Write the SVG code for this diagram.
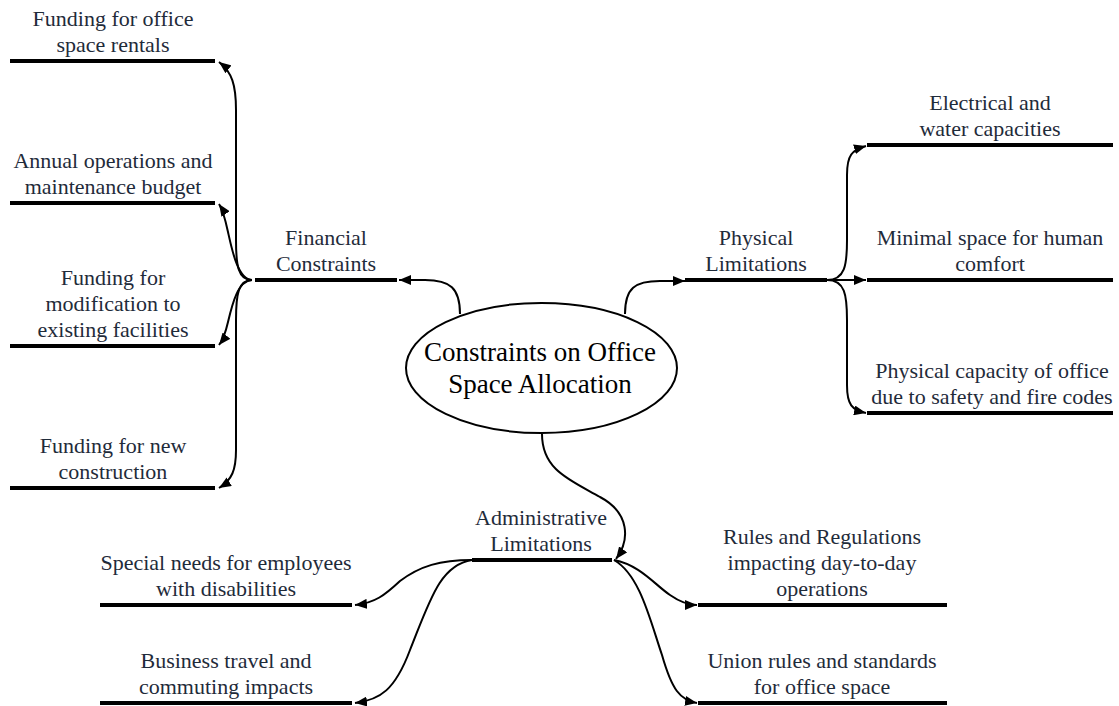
<svg xmlns="http://www.w3.org/2000/svg" width="1119" height="706" viewBox="0 0 1119 706">
  <defs>
    <marker id="arrow" markerUnits="userSpaceOnUse" markerWidth="12" markerHeight="10" refX="12" refY="5" orient="auto">
      <path d="M0,0 L12,5 L0,10 z" fill="#000"/>
    </marker>
    <style>
      .bar { stroke: #000; stroke-width: 4; fill: none; }
      .link { stroke: #000; stroke-width: 2; fill: none; marker-end: url(#arrow); }
      .lbl { font-family: "Liberation Serif", "Times New Roman", serif; font-size: 22px; fill: #1f2b3a; text-anchor: middle; }
      .root { font-family: "Liberation Serif", "Times New Roman", serif; font-size: 27px; fill: #000; text-anchor: middle; }
    </style>
  </defs>
  <rect width="1119" height="706" fill="#fff"/>

  <!-- connectors -->
  <g id="connectors">
    <!-- root to branches -->
    <path class="link" d="M460,314 C460,288 450,280 425,280 L399,280"/>
    <path class="link" d="M625,314 C625,288 635,281 660,281 L685,281"/>
    <path class="link" d="M542,434 C542,470 570,480 600,497 C630,513 630,540 616,559"/>
    <!-- financial -->
    <path class="link" d="M252,280 C238,280 236,265 236,240 L236,110 C236,85 232,72 219,62"/>
    <path class="link" d="M252,280 C238,280 232,250 228,232 C225,218 223,210 219,204"/>
    <path class="link" d="M252,280 C238,280 232,305 228,322 C225,335 223,340 219,345"/>
    <path class="link" d="M252,280 C238,280 236,295 236,320 L236,450 C236,470 232,480 219,488"/>
    <!-- physical -->
    <path class="link" d="M827,280 C845,280 847,265 847,240 L847,175 C847,155 852,150 866,146"/>
    <path class="link" d="M827,280 L866,280"/>
    <path class="link" d="M827,280 C845,280 847,295 847,320 L847,385 C847,405 852,410 866,413"/>
    <!-- administrative -->
    <path class="link" d="M472,560 C440,560 420,566 400,581 C385,595 375,603 355,605"/>
    <path class="link" d="M472,560 C440,565 430,600 410,650 C395,690 380,700 355,703"/>
    <path class="link" d="M614,560 C640,565 655,585 670,595 C680,602 688,605 697,605"/>
    <path class="link" d="M614,560 C640,575 650,620 662,655 C672,690 680,700 697,703"/>
  </g>

  <!-- central topic -->
  <g id="root">
    <ellipse cx="541.5" cy="368" rx="135.5" ry="65" fill="#fff" stroke="#000" stroke-width="2"/>
    <text class="root" x="540" y="361">Constraints on Office</text>
    <text class="root" x="540" y="393">Space Allocation</text>
  </g>

  <!-- main branches -->
  <g id="financial">
    <line class="bar" x1="255" y1="280" x2="397" y2="280"/>
    <text class="lbl" x="326" y="245">Financial</text>
    <text class="lbl" x="326" y="271">Constraints</text>
  </g>
  <g id="physical">
    <line class="bar" x1="685" y1="280" x2="827" y2="280"/>
    <text class="lbl" x="756" y="245">Physical</text>
    <text class="lbl" x="756" y="271">Limitations</text>
  </g>
  <g id="administrative">
    <line class="bar" x1="472" y1="560" x2="612" y2="560"/>
    <text class="lbl" x="541" y="525">Administrative</text>
    <text class="lbl" x="541" y="551">Limitations</text>
  </g>

  <!-- financial leaves -->
  <g id="fin-rentals">
    <line class="bar" x1="10" y1="61" x2="215" y2="61"/>
    <text class="lbl" x="113" y="26">Funding for office</text>
    <text class="lbl" x="113" y="52">space rentals</text>
  </g>
  <g id="fin-operations">
    <line class="bar" x1="10" y1="203" x2="215" y2="203"/>
    <text class="lbl" x="113" y="168">Annual operations and</text>
    <text class="lbl" x="113" y="194">maintenance budget</text>
  </g>
  <g id="fin-modification">
    <line class="bar" x1="10" y1="346" x2="215" y2="346"/>
    <text class="lbl" x="113" y="285">Funding for</text>
    <text class="lbl" x="113" y="311">modification to</text>
    <text class="lbl" x="113" y="337">existing facilities</text>
  </g>
  <g id="fin-construction">
    <line class="bar" x1="10" y1="488" x2="215" y2="488"/>
    <text class="lbl" x="113" y="453">Funding for new</text>
    <text class="lbl" x="113" y="479">construction</text>
  </g>

  <!-- physical leaves -->
  <g id="phy-capacities">
    <line class="bar" x1="867" y1="145" x2="1113" y2="145"/>
    <text class="lbl" x="990" y="110">Electrical and</text>
    <text class="lbl" x="990" y="136">water capacities</text>
  </g>
  <g id="phy-comfort">
    <line class="bar" x1="867" y1="280" x2="1113" y2="280"/>
    <text class="lbl" x="990" y="245">Minimal space for human</text>
    <text class="lbl" x="990" y="271">comfort</text>
  </g>
  <g id="phy-codes">
    <line class="bar" x1="867" y1="413" x2="1113" y2="413"/>
    <text class="lbl" x="992" y="378">Physical capacity of office</text>
    <text class="lbl" x="992" y="404">due to safety and fire codes</text>
  </g>

  <!-- administrative leaves -->
  <g id="adm-disabilities">
    <line class="bar" x1="100" y1="605" x2="352" y2="605"/>
    <text class="lbl" x="226" y="570">Special needs for employees</text>
    <text class="lbl" x="226" y="596">with disabilities</text>
  </g>
  <g id="adm-travel">
    <line class="bar" x1="100" y1="703" x2="352" y2="703"/>
    <text class="lbl" x="226" y="668">Business travel and</text>
    <text class="lbl" x="226" y="694">commuting impacts</text>
  </g>
  <g id="adm-rules">
    <line class="bar" x1="698" y1="605" x2="947" y2="605"/>
    <text class="lbl" x="822" y="544">Rules and Regulations</text>
    <text class="lbl" x="822" y="570">impacting day-to-day</text>
    <text class="lbl" x="822" y="596">operations</text>
  </g>
  <g id="adm-union">
    <line class="bar" x1="698" y1="703" x2="947" y2="703"/>
    <text class="lbl" x="822" y="668">Union rules and standards</text>
    <text class="lbl" x="822" y="694">for office space</text>
  </g>
</svg>
